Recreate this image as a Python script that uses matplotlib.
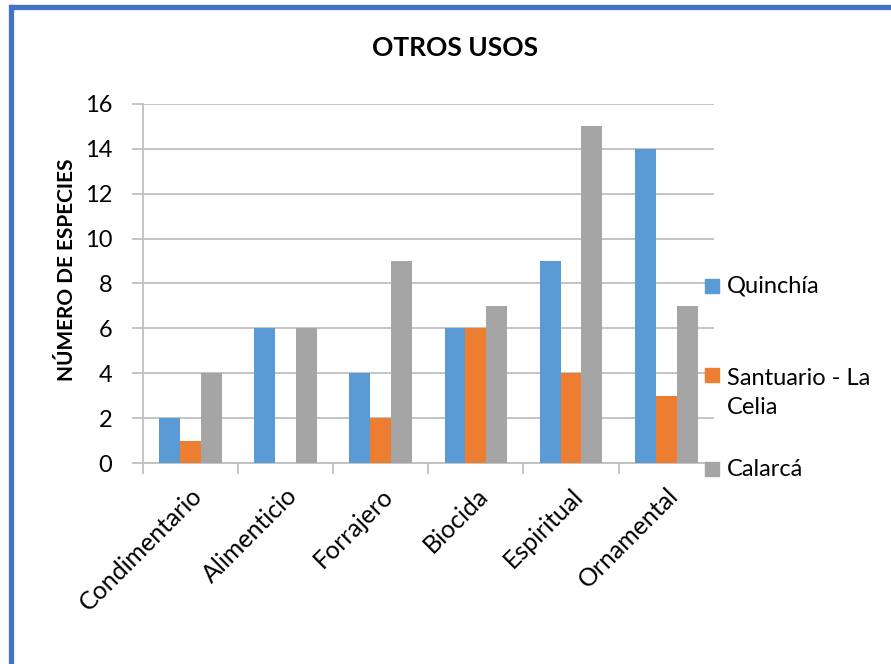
import matplotlib
matplotlib.use("Agg")
import matplotlib.pyplot as plt
import numpy as np
from matplotlib.lines import Line2D
from matplotlib.patches import Rectangle

plt.rcParams["font.family"] = ["Lato", "DejaVu Sans"]

categorias = ["Condimentario", "Alimenticio", "Forrajero", "Biocida", "Espiritual", "Ornamental"]
quinchia = [2, 6, 4, 6, 9, 14]
santuario = [1, 0, 2, 6, 4, 3]
calarca = [4, 6, 9, 7, 15, 7]
series = ["Quinchía", "Santuario - La\nCelia", "Calarcá"]
colores = ["#5B9BD5", "#ED7D31", "#A5A5A5"]

fig = plt.figure(figsize=(8.91, 6.64), dpi=100)
ax = fig.add_axes([0.1605, 0.3027, 0.6405, 0.5407])

x = np.arange(len(categorias))
w = 0.22
for i, (vals, col) in enumerate(zip([quinchia, santuario, calarca], colores)):
    ax.bar(x + (i - 1) * w, vals, width=w, color=col, zorder=3)

ax.set_xlim(-0.5, len(categorias) - 0.5)
ax.set_ylim(0, 16)
ax.set_yticks(range(0, 17, 2))
ax.yaxis.grid(True, color="#BFBFBF", linewidth=1.3, zorder=0)
for s in ["top", "right"]:
    ax.spines[s].set_visible(False)
for s in ["left", "bottom"]:
    ax.spines[s].set_color("#BFBFBF")
    ax.spines[s].set_linewidth(1.3)
ax.tick_params(axis="y", length=8, color="#BFBFBF", width=1.3, labelsize=17, pad=14)
ax.set_xticks(np.arange(-0.5, len(categorias), 1.0))
ax.set_xticklabels([])
ax.set_xticks(x, minor=True)
ax.set_xticklabels(categorias, minor=True, rotation=45, ha="right",
                   rotation_mode="anchor", fontsize=18)
ax.tick_params(axis="x", which="major", length=8, color="#BFBFBF", width=1.3)
ax.tick_params(axis="x", which="minor", length=0, pad=15)

ax.set_ylabel("NÚMERO DE ESPECIES", fontsize=15, fontweight="bold")
ax.yaxis.set_label_coords(-0.116, 0.538)
fig.text(0.511, 1 - 48 / 664, "OTROS USOS", fontsize=19, fontweight="bold",
         ha="center", va="center")

# leyenda manual
ley_y = [286, 375, 469]
for nombre, col, yy in zip(series, colores, ley_y):
    fy = 1 - yy / 664
    fig.add_artist(Rectangle((705 / 891, fy - 7 / 664), 14 / 891, 14 / 664,
                             transform=fig.transFigure, color=col))
    fig.text(727 / 891, fy, nombre, fontsize=17, ha="left", va="center",
             linespacing=1.45)
# etiqueta de dos lineas: primera linea alineada con el cuadro
fig.texts[-2].set_position((727 / 891, 1 - 393 / 664))

# borde azul
fig.add_artist(Line2D([10.5 / 891, 10.5 / 891], [0, 1 - 6.5 / 664], transform=fig.transFigure,
                      color="#4472C4", linewidth=3.8))
fig.add_artist(Line2D([8.6 / 891, 1], [1 - 6.5 / 664, 1 - 6.5 / 664], transform=fig.transFigure,
                      color="#4472C4", linewidth=3.8, solid_capstyle="butt"))

fig.savefig("out.png", dpi=100)
